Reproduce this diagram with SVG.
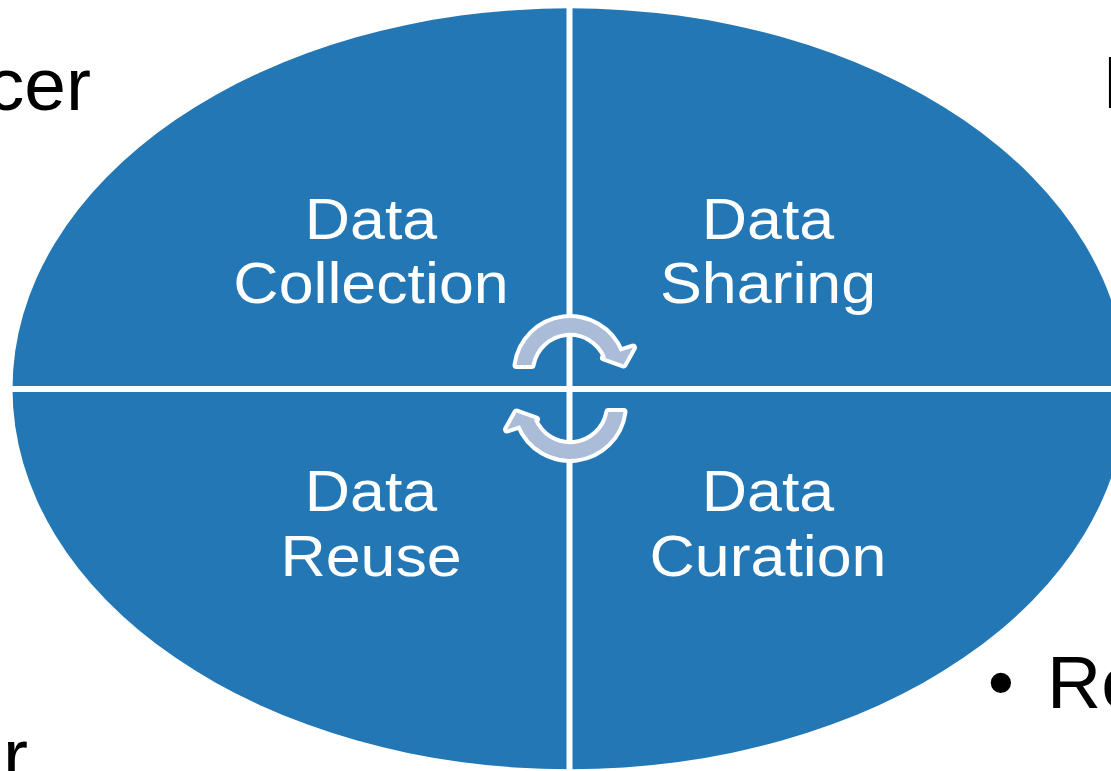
<svg xmlns="http://www.w3.org/2000/svg" width="1111" height="771" viewBox="0 0 1111 771">
<style>
.lbl{font-family:"Liberation Sans",Arial,sans-serif;font-size:57px;fill:#ffffff;text-anchor:middle}
.out{font-family:"Liberation Sans",Arial,sans-serif;font-size:75px;fill:#000000}
.arw{fill:#AABCD8;stroke:#ffffff;stroke-width:8;stroke-linejoin:round;paint-order:stroke}
.sep{stroke:#ffffff;stroke-width:6}
</style>
<defs>
<path id="carrow" d="M516.5,365 A54,54 0 0 1 620.1,351.8 L633,347.5 L623.5,364.5 L604,357.5 L606.2,357.4 A39,39 0 0 0 531.6,365 Z"/>
</defs>
<rect width="1111" height="771" fill="#ffffff"/>
<text class="out" x="91" y="110" text-anchor="end">cer</text>
<text class="out" x="1102" y="108">I</text>
<text class="out" x="1001" y="708" text-anchor="middle">•</text>
<text class="out" x="1047" y="708">Re</text>
<text class="out" x="3" y="781">r</text>
<g id="cycle">
<ellipse cx="569.5" cy="388.8" rx="557" ry="380.5" fill="#2377B4"/>
</g>
<g id="connectors">
<line class="sep" x1="569.5" y1="0" x2="569.5" y2="771"/>
<line class="sep" x1="0" y1="389" x2="1111" y2="389"/>
</g>
<g id="q-collection">
<text class="lbl" transform="translate(371,0) scale(1.1,1)"><tspan x="0" y="239">Data</tspan><tspan x="0" y="303">Collection</tspan></text>
</g>
<g id="q-sharing">
<text class="lbl" transform="translate(768,0) scale(1.1,1)"><tspan x="0" y="239">Data</tspan><tspan x="0" y="303">Sharing</tspan></text>
</g>
<g id="q-reuse">
<text class="lbl" transform="translate(371,0) scale(1.1,1)"><tspan x="0" y="511">Data</tspan><tspan x="0" y="576">Reuse</tspan></text>
</g>
<g id="q-curation">
<text class="lbl" transform="translate(768,0) scale(1.1,1)"><tspan x="0" y="511">Data</tspan><tspan x="0" y="576">Curation</tspan></text>
</g>
<g id="arrow-top"><use href="#carrow" class="arw"/></g>
<g id="arrow-bottom"><use href="#carrow" class="arw" transform="rotate(180 570 388.5)"/></g>
</svg>
